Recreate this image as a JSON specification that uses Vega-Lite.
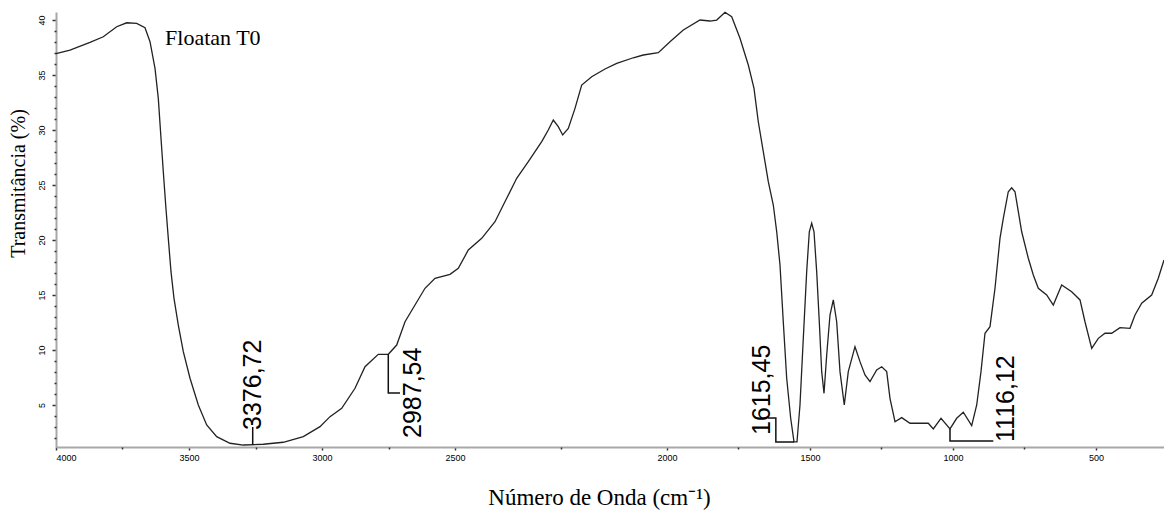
{
  "$schema": "https://vega.github.io/schema/vega-lite/v6.json",
  "width": 1108,
  "height": 435,
  "autosize": {"type": "none"},
  "padding": {"left": 56, "top": 12, "right": 0, "bottom": 65},
  "background": "white",
  "config": {"view": {"stroke": null}},
  "resolve": {"axis": {"x": "independent", "y": "independent"}},
  "datasets": {
    "spectrum": [
      {"w": 4000, "t": 36.95}, {"w": 3947.4, "t": 37.27}, {"w": 3872.2, "t": 37.97}, {"w": 3822.2, "t": 38.48},
      {"w": 3771.8, "t": 39.39}, {"w": 3734.2, "t": 39.75}, {"w": 3696.6, "t": 39.7}, {"w": 3665.4, "t": 39.3},
      {"w": 3646.6, "t": 38.03}, {"w": 3627.8, "t": 35.61}, {"w": 3615.4, "t": 32.88}, {"w": 3605.3, "t": 29.25},
      {"w": 3596.6, "t": 26.21}, {"w": 3587.6, "t": 23.18}, {"w": 3577.8, "t": 20.15}, {"w": 3567.7, "t": 17.12},
      {"w": 3556.4, "t": 14.7}, {"w": 3540.2, "t": 12.27}, {"w": 3521.4, "t": 9.85}, {"w": 3496.2, "t": 7.43},
      {"w": 3465.0, "t": 5.0}, {"w": 3433.5, "t": 3.18}, {"w": 3395.9, "t": 2.12}, {"w": 3345.9, "t": 1.52},
      {"w": 3295.9, "t": 1.36}, {"w": 3220.7, "t": 1.43}, {"w": 3145.5, "t": 1.61}, {"w": 3070.3, "t": 2.12},
      {"w": 3007.5, "t": 3.03}, {"w": 2969.9, "t": 3.94}, {"w": 2925.9, "t": 4.7}, {"w": 2875.9, "t": 6.52},
      {"w": 2838.3, "t": 8.48}, {"w": 2788.4, "t": 9.61}, {"w": 2750.8, "t": 9.61}, {"w": 2719.2, "t": 10.45},
      {"w": 2687.9, "t": 12.57}, {"w": 2650.4, "t": 14.09}, {"w": 2612.8, "t": 15.61}, {"w": 2575.2, "t": 16.52},
      {"w": 2518.8, "t": 16.88}, {"w": 2492.2, "t": 17.43}, {"w": 2468.6, "t": 19.09}, {"w": 2437.0, "t": 20.15},
      {"w": 2405.7, "t": 21.66}, {"w": 2378.1, "t": 23.79}, {"w": 2354.5, "t": 25.61}, {"w": 2327.1, "t": 27.12},
      {"w": 2295.5, "t": 28.94}, {"w": 2280.0, "t": 30.0}, {"w": 2268.2, "t": 30.91}, {"w": 2256.4, "t": 30.3},
      {"w": 2246.0, "t": 29.55}, {"w": 2232.8, "t": 30.15}, {"w": 2217.0, "t": 31.97}, {"w": 2201.2, "t": 34.09},
      {"w": 2177.6, "t": 34.85}, {"w": 2146.2, "t": 35.55}, {"w": 2118.6, "t": 36.06}, {"w": 2079.5, "t": 36.57},
      {"w": 2055.9, "t": 36.82}, {"w": 2020.5, "t": 37.03}, {"w": 1989.5, "t": 38.03}, {"w": 1943.0, "t": 39.09},
      {"w": 1884.6, "t": 40.0}, {"w": 1849.6, "t": 39.91}, {"w": 1826.2, "t": 40.0}, {"w": 1797.2, "t": 40.7},
      {"w": 1773.8, "t": 40.3}, {"w": 1744.8, "t": 38.34}, {"w": 1715.7, "t": 35.91}, {"w": 1695.8, "t": 33.79},
      {"w": 1680.8, "t": 30.75}, {"w": 1663.3, "t": 28.03}, {"w": 1645.8, "t": 25.3}, {"w": 1628.3, "t": 23.18},
      {"w": 1616.4, "t": 20.75}, {"w": 1604.9, "t": 17.73}, {"w": 1593.4, "t": 12.57}, {"w": 1581.5, "t": 7.43},
      {"w": 1567.5, "t": 3.79}, {"w": 1555.9, "t": 1.64}, {"w": 1545.5, "t": 1.64}, {"w": 1535.0, "t": 5.0},
      {"w": 1523.4, "t": 11.06}, {"w": 1511.6, "t": 17.12}, {"w": 1502.4, "t": 20.75}, {"w": 1494.1, "t": 21.52},
      {"w": 1486.0, "t": 20.75}, {"w": 1476.6, "t": 17.12}, {"w": 1467.5, "t": 12.57}, {"w": 1459.1, "t": 8.03},
      {"w": 1451.0, "t": 6.06}, {"w": 1441.6, "t": 9.55}, {"w": 1430.1, "t": 13.18}, {"w": 1418.5, "t": 14.55},
      {"w": 1406.7, "t": 12.57}, {"w": 1395.1, "t": 8.03}, {"w": 1380.1, "t": 5.0}, {"w": 1366.1, "t": 8.03},
      {"w": 1342.7, "t": 10.3}, {"w": 1325.2, "t": 8.94}, {"w": 1307.7, "t": 7.73}, {"w": 1290.2, "t": 7.12},
      {"w": 1266.8, "t": 8.18}, {"w": 1249.3, "t": 8.48}, {"w": 1231.8, "t": 8.03}, {"w": 1220.3, "t": 5.61},
      {"w": 1202.8, "t": 3.48}, {"w": 1179.4, "t": 3.85}, {"w": 1150.3, "t": 3.34}, {"w": 1086.4, "t": 3.34},
      {"w": 1068.9, "t": 2.82}, {"w": 1041.9, "t": 3.79}, {"w": 1010.5, "t": 2.82}, {"w": 987.1, "t": 3.79},
      {"w": 964.0, "t": 4.34}, {"w": 934.6, "t": 3.12}, {"w": 917.1, "t": 5.0}, {"w": 902.1, "t": 8.03},
      {"w": 888.1, "t": 11.52}, {"w": 870.6, "t": 12.12}, {"w": 853.1, "t": 15.61}, {"w": 835.7, "t": 20.15},
      {"w": 824.1, "t": 21.97}, {"w": 806.7, "t": 24.39}, {"w": 794.8, "t": 24.75}, {"w": 783.2, "t": 24.39},
      {"w": 759.8, "t": 20.75}, {"w": 736.7, "t": 18.34}, {"w": 719.2, "t": 16.82}, {"w": 701.7, "t": 15.61},
      {"w": 672.4, "t": 15.0}, {"w": 649.3, "t": 14.09}, {"w": 620.0, "t": 15.91}, {"w": 585.0, "t": 15.3},
      {"w": 555.9, "t": 14.55}, {"w": 538.5, "t": 12.57}, {"w": 515.0, "t": 10.15}, {"w": 491.9, "t": 11.06},
      {"w": 468.5, "t": 11.52}, {"w": 445.1, "t": 11.52}, {"w": 416.1, "t": 12.03}, {"w": 381.1, "t": 11.97},
      {"w": 363.6, "t": 13.18}, {"w": 340.2, "t": 14.25}, {"w": 305.3, "t": 15.0}, {"w": 282.2, "t": 16.52},
      {"w": 262.2, "t": 18.18}
    ],
    "brackets": [
      {"g": "a", "o": 0, "w": 3260.5, "t": 3.0}, {"g": "a", "o": 1, "w": 3260.5, "t": 1.36},
      {"g": "b", "o": 0, "w": 2750.8, "t": 9.61}, {"g": "b", "o": 1, "w": 2750.8, "t": 6.09}, {"g": "b", "o": 2, "w": 2706.8, "t": 6.09},
      {"g": "c", "o": 0, "w": 1647.4, "t": 3.82}, {"g": "c", "o": 1, "w": 1619.4, "t": 3.82}, {"g": "c", "o": 2, "w": 1619.4, "t": 1.64}, {"g": "c", "o": 3, "w": 1555.9, "t": 1.64},
      {"g": "d", "o": 0, "w": 1010.5, "t": 2.82}, {"g": "d", "o": 1, "w": 1010.5, "t": 1.73}, {"g": "d", "o": 2, "w": 859.1, "t": 1.73}
    ],
    "peaks": [
      {"label": "3376,72", "w": 3260.5, "t": 2.73},
      {"label": "2987,54", "w": 2657.9, "t": 2.0},
      {"label": "1615,45", "w": 1666.1, "t": 2.27},
      {"label": "1116,12", "w": 814.7, "t": 1.64}
    ],
    "sample": [{"label": "Floatan T0", "w": 3590, "t": 37.7}]
  },
  "layer": [
    {
      "data": {"name": "spectrum"},
      "mark": {"type": "line", "color": "#222222", "strokeWidth": 1.3, "interpolate": "linear"},
      "encoding": {
        "x": {
          "field": "w", "type": "quantitative",
          "scale": {"domain": [4000, 2500, 2000, 262.2], "range": [0, 399, 611, 1108], "nice": false, "zero": false},
          "axis": {
            "values": [4000, 3500, 3000, 2500, 2000, 1500, 1000, 500],
            "format": "d",
            "labelOverlap": false,
            "labelFont": "Liberation Sans",
            "labelFontSize": 9,
            "labelColor": "#000000",
            "labelPadding": 3,
            "tickSize": 3,
            "tickColor": "#333333",
            "tickWidth": 1.5,
            "domainColor": "#a8a8a8",
            "domainWidth": 2,
            "grid": false,
            "title": "Número de Onda  (cm⁻¹)",
            "titleFont": "Liberation Serif",
            "titleFontSize": 23,
            "titleFontWeight": "normal",
            "titleColor": "#000000",
            "titleX": 543,
            "titleY": 39,
            "titleAlign": "center",
            "titleBaseline": "top"
          }
        },
        "y": {
          "field": "t", "type": "quantitative",
          "scale": {"domain": [1.18, 40.73], "nice": false, "zero": false},
          "axis": {
            "values": [5, 10, 15, 20, 25, 30, 35, 40],
            "format": "d",
            "labelOverlap": false,
            "labelAngle": 270,
            "labelAlign": "center",
            "labelBaseline": "bottom",
            "labelFont": "Liberation Sans",
            "labelFontSize": 9,
            "labelColor": "#000000",
            "labelPadding": 6,
            "tickSize": 4,
            "tickColor": "#333333",
            "tickWidth": 1.5,
            "domainColor": "#a8a8a8",
            "domainWidth": 2,
            "grid": false,
            "title": "Transmitância (%)",
            "titleFont": "Liberation Serif",
            "titleFontSize": 20,
            "titleFontWeight": "normal",
            "titleColor": "#000000",
            "titleAngle": 270,
            "titleX": -28,
            "titleY": 171,
            "titleAlign": "center",
            "titleBaseline": "bottom"
          }
        }
      }
    },
    {
      "mark": {"type": "rule", "color": "#a8a8a8", "strokeWidth": 2},
      "encoding": {"y": {"datum": 40.73, "type": "quantitative", "axis": null}}
    },
    {
      "data": {"name": "brackets"},
      "mark": {"type": "line", "color": "#111111", "strokeWidth": 1.5},
      "encoding": {
        "x": {"field": "w", "type": "quantitative",
          "axis": {"orient": "bottom", "values": [3750, 3250, 2750, 2250, 1750, 1250, 750], "labels": false, "domain": false, "grid": false, "title": null, "tickSize": 2, "tickWidth": 1.5, "tickColor": "#333333"}},
        "y": {"field": "t", "type": "quantitative",
          "axis": {"orient": "left", "values": [2, 3, 4, 6, 7, 8, 9, 11, 12, 13, 14, 16, 17, 18, 19, 21, 22, 23, 24, 26, 27, 28, 29, 31, 32, 33, 34, 36, 37, 38, 39], "labels": false, "domain": false, "grid": false, "title": null, "tickSize": 2, "tickWidth": 1.5, "tickColor": "#333333"}},
        "detail": {"field": "g"},
        "order": {"field": "o"}
      }
    },
    {
      "data": {"name": "peaks"},
      "mark": {"type": "text", "angle": 270, "align": "left", "baseline": "middle", "font": "Liberation Sans", "fontSize": 25, "color": "#000000"},
      "encoding": {
        "x": {"field": "w", "type": "quantitative", "axis": null},
        "y": {"field": "t", "type": "quantitative", "axis": null},
        "text": {"field": "label"}
      }
    },
    {
      "data": {"name": "sample"},
      "mark": {"type": "text", "align": "left", "baseline": "alphabetic", "font": "Liberation Serif", "fontSize": 22, "color": "#000000"},
      "encoding": {
        "x": {"field": "w", "type": "quantitative", "axis": null},
        "y": {"field": "t", "type": "quantitative", "axis": null},
        "text": {"field": "label"}
      }
    }
  ]
}
